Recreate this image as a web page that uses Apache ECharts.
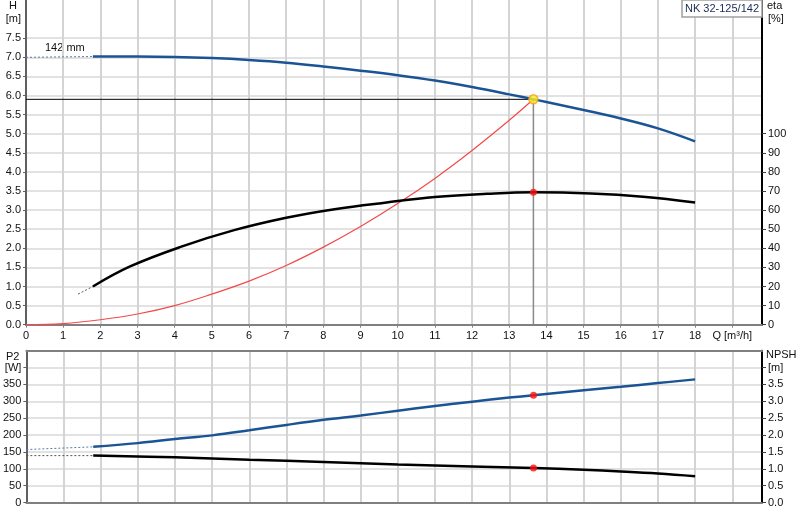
<!DOCTYPE html>
<html>
<head>
<meta charset="utf-8">
<script src="https://cdn.jsdelivr.net/npm/echarts@6/dist/echarts.min.js"></script>
<style>
html,body{margin:0;padding:0;background:#fff;}
#c{width:800px;height:520px;}
</style>
</head>
<body>
<div id="c"></div>
<script>
// ---- data ----
const qTicks = [0,1,2,3,4,5,6,7,8,9,10,11,12,13,14,15,16,17,18,19];
const hTicks = [0,0.5,1,1.5,2,2.5,3,3.5,4,4.5,5,5.5,6,6.5,7,7.5,8];
const etaTicks = [0,10,20,30,40,50,60,70,80,90,100,160];
const p2Ticks = [0,50,100,150,200,250,300,350,400];
const npshTicks = [0,0.5,1,1.5,2,2.5,3,3.5,4];

// H curve (m) 142 mm
const hDotQ = [0, 1.8];
const hDotV = [7.0, 7.02];
const hQ = [1.8, 3, 4, 5, 6, 7, 8, 9, 10, 11, 12, 13, 13.65, 14, 15, 16, 17, 18];
const hV = [7.02, 7.02, 7.01, 6.98, 6.93, 6.86, 6.76, 6.65, 6.53, 6.39, 6.22, 6.03, 5.9, 5.83, 5.62, 5.4, 5.14, 4.8];

// efficiency eta (%)
const etaDotQ = [1.4, 1.8];
const etaDotV = [16, 20];
const etaQ = [1.8, 2.8, 4.2, 5.6, 7, 8.3, 9.7, 11, 12.4, 13.65, 15.2, 16.6, 18];
const etaV = [20, 30.5, 41, 49.5, 56, 60.5, 64, 66.8, 68.5, 69.3, 68.7, 67, 64];

// system curve (m)
const sysQ = [0, 1, 2, 3, 4, 5, 6, 7, 8, 9, 10, 11, 12, 13, 13.65];
const sysV = [0, 0.03, 0.13, 0.28, 0.5, 0.8, 1.14, 1.55, 2.03, 2.57, 3.17, 3.83, 4.56, 5.35, 5.9];

// P2 (W)
const p2DotQ = [0, 1.8];
const p2DotV = [157, 165];
const p2Q = [1.8, 3, 4, 5, 6, 7, 8, 9, 10, 11, 12, 13, 13.65, 15, 16, 17, 18];
const p2V = [165, 176, 188, 199, 214, 230, 245, 258, 272, 286, 299, 311, 318, 333, 343, 354, 365];

// NPSH (m)
const npDotQ = [0, 1.8];
const npDotV = [1.39, 1.39];
const npQ = [1.8, 4, 6, 8, 10, 12, 13.65, 15, 16, 17, 18];
const npV = [1.39, 1.34, 1.27, 1.2, 1.13, 1.07, 1.02, 0.97, 0.92, 0.86, 0.78];

// duty point
const dutyQ = 13.65, dutyH = 5.9, dutyEta = 69.3, dutyP2 = 318, dutyNpsh = 1.02;

const pumpName = 'NK 32-125/142';
const curveName = '142 mm';

// ---- build ----
const zip = (a, b) => a.map((v, i) => [v, b[i]]);
const FONT = "'Liberation Sans', Arial, sans-serif";
const txt = '#111';
const gridV = '#d4d4d4';
const gridH = '#e2e2e2';
const blue = '#1b5494';

const chart = echarts.init(document.getElementById('c'), null, {renderer: 'canvas'});

const fmt1 = v => Number(v).toFixed(1);

chart.setOption({
  animation: false,
  textStyle: {fontFamily: FONT},
  grid: [
    {left: 26, right: 38, top: 0, height: 324.7},
    {left: 26, right: 38, top: 350.7, height: 151.8}
  ],
  title: {
    text: pumpName, right: 38, top: 0,
    padding: [3, 3, 3, 3],
    borderColor: '#a0a0a0', borderWidth: 1.5, backgroundColor: '#fff',
    textStyle: {fontSize: 11, fontWeight: 'normal', color: '#1c2c54', fontFamily: FONT}
  },
  xAxis: [
    {
      type: 'value', gridIndex: 0, min: 0, max: 19.8, interval: 1,
      axisLine: {show: true, onZero: false, lineStyle: {color: '#808080', width: 2}},
      axisTick: {show: true, length: 3, customValues: qTicks, lineStyle: {color: '#808080'}},
      axisLabel: {customValues: qTicks, margin: 6, fontSize: 11, color: txt,
        formatter: v => v === 19 ? 'Q [m³/h]' : String(v)},
      splitLine: {show: true, lineStyle: {color: gridV, width: 2}}
    },
    {
      type: 'value', gridIndex: 1, min: 0, max: 19.8, interval: 1,
      axisLine: {show: true, onZero: false, lineStyle: {color: '#808080', width: 2}},
      axisTick: {show: false},
      axisLabel: {show: false},
      splitLine: {show: true, lineStyle: {color: gridV, width: 2}}
    },
    {
      type: 'value', gridIndex: 1, min: 0, max: 19.8, position: 'top',
      axisLine: {show: true, onZero: false, lineStyle: {color: '#808080', width: 2}},
      axisTick: {show: false}, axisLabel: {show: false}, splitLine: {show: false}
    }
  ],
  yAxis: [
    {
      type: 'value', gridIndex: 0, min: 0, max: 8.5, interval: 0.5, position: 'left',
      axisLine: {show: true, onZero: false, lineStyle: {color: '#606060', width: 2}},
      axisTick: {show: true, length: 3, customValues: hTicks.slice(0, -1), lineStyle: {color: '#606060'}},
      axisLabel: {customValues: hTicks, margin: 5, fontSize: 11, color: txt,
        formatter: v => v === 8 ? '[m]' : fmt1(v)},
      splitLine: {show: true, lineStyle: {color: gridH, width: 2}}
    },
    {
      type: 'value', gridIndex: 0, min: 0, max: 170, interval: 10, position: 'right',
      axisLine: {show: true, onZero: false, lineStyle: {color: '#000', width: 2}},
      axisTick: {show: true, length: 4, customValues: etaTicks.slice(0, -1), lineStyle: {color: '#404040'}},
      axisLabel: {customValues: etaTicks, margin: 6, fontSize: 11, color: txt,
        formatter: v => v === 160 ? '[%]' : String(v)},
      splitLine: {show: false}
    },
    {
      type: 'value', gridIndex: 1, min: 0, max: 450, interval: 50, position: 'left',
      axisLine: {show: true, onZero: false, lineStyle: {color: '#606060', width: 2}},
      axisTick: {show: true, length: 3, customValues: p2Ticks, lineStyle: {color: '#606060'}},
      axisLabel: {customValues: p2Ticks, margin: 5, fontSize: 11, color: txt,
        formatter: v => v === 400 ? '[W]' : String(v)},
      splitLine: {show: true, lineStyle: {color: gridH, width: 2}}
    },
    {
      type: 'value', gridIndex: 1, min: 0, max: 4.5, interval: 0.5, position: 'right',
      axisLine: {show: true, onZero: false, lineStyle: {color: '#000', width: 2}},
      axisTick: {show: true, length: 4, customValues: npshTicks, lineStyle: {color: '#404040'}},
      axisLabel: {customValues: npshTicks, margin: 6, fontSize: 11, color: txt,
        formatter: v => v === 4 ? '[m]' : fmt1(v)},
      splitLine: {show: false}
    }
  ],
  graphic: [
    {type: 'text', left: 9, top: 0, style: {text: 'H', font: "11px " + FONT, fill: '#111'}},
    {type: 'text', left: 767, top: 0, style: {text: 'eta', font: "11px " + FONT, fill: '#111'}},
    {type: 'text', left: 6, top: 351, style: {text: 'P2', font: "11px " + FONT, fill: '#111'}},
    {type: 'text', left: 766, top: 349, style: {text: 'NPSH', font: "11px " + FONT, fill: '#111'}},
    {type: 'text', left: 45, top: 42, style: {text: curveName, font: "11px " + FONT, fill: '#111'}}
  ],
  series: [
    // duty point guide lines
    {type: 'line', xAxisIndex: 0, yAxisIndex: 0, data: [[0, dutyH], [dutyQ, dutyH]],
      symbol: 'none', lineStyle: {color: '#000', width: 1}, z: 3},
    {type: 'line', xAxisIndex: 0, yAxisIndex: 0, data: [[dutyQ, dutyH], [dutyQ, 0]],
      symbol: 'none', lineStyle: {color: '#8a8a8a', width: 1.5}, z: 3},
    // system curve
    {type: 'line', xAxisIndex: 0, yAxisIndex: 0, data: zip(sysQ, sysV), smooth: 0.4,
      symbol: 'none', lineStyle: {color: '#f24a4a', width: 1.2}, z: 4},
    // H curve
    {type: 'line', xAxisIndex: 0, yAxisIndex: 0, data: zip(hDotQ, hDotV),
      symbol: 'none', lineStyle: {color: '#5a7aa8', width: 1, type: [2, 2]}, z: 4},
    {type: 'line', xAxisIndex: 0, yAxisIndex: 0, data: zip(hQ, hV), smooth: 0.4,
      symbol: 'none', lineStyle: {color: blue, width: 2.5}, z: 5},
    // eta curve
    {type: 'line', xAxisIndex: 0, yAxisIndex: 1, data: zip(etaDotQ, etaDotV),
      symbol: 'none', lineStyle: {color: '#555', width: 1, type: [2, 2]}, z: 4},
    {type: 'line', xAxisIndex: 0, yAxisIndex: 1, data: zip(etaQ, etaV), smooth: 0.4,
      symbol: 'none', lineStyle: {color: '#000', width: 2.5}, z: 5},
    // P2 curve
    {type: 'line', xAxisIndex: 1, yAxisIndex: 2, data: zip(p2DotQ, p2DotV),
      symbol: 'none', lineStyle: {color: '#5a7aa8', width: 1, type: [2, 2]}, z: 4},
    {type: 'line', xAxisIndex: 1, yAxisIndex: 2, data: zip(p2Q, p2V), smooth: 0.4,
      symbol: 'none', lineStyle: {color: blue, width: 2.5}, z: 5},
    // NPSH curve
    {type: 'line', xAxisIndex: 1, yAxisIndex: 3, data: zip(npDotQ, npDotV),
      symbol: 'none', lineStyle: {color: '#555', width: 1, type: [2, 2]}, z: 4},
    {type: 'line', xAxisIndex: 1, yAxisIndex: 3, data: zip(npQ, npV), smooth: 0.4,
      symbol: 'none', lineStyle: {color: '#000', width: 2.5}, z: 5},
    // duty point markers
    {type: 'scatter', xAxisIndex: 0, yAxisIndex: 0, data: [[dutyQ, dutyH]], symbolSize: 9,
      itemStyle: {color: '#ffee22', borderColor: '#f0a020', borderWidth: 1.5}, z: 10},
    {type: 'scatter', xAxisIndex: 0, yAxisIndex: 1, data: [[dutyQ, dutyEta]], symbolSize: 7,
      itemStyle: {color: '#ff1010'}, z: 10},
    {type: 'scatter', xAxisIndex: 1, yAxisIndex: 2, data: [[dutyQ, dutyP2]], symbolSize: 7,
      itemStyle: {color: '#ff1010'}, z: 10},
    {type: 'scatter', xAxisIndex: 1, yAxisIndex: 3, data: [[dutyQ, dutyNpsh]], symbolSize: 7,
      itemStyle: {color: '#ff1010'}, z: 10}
  ]
});
</script>
</body>
</html>
